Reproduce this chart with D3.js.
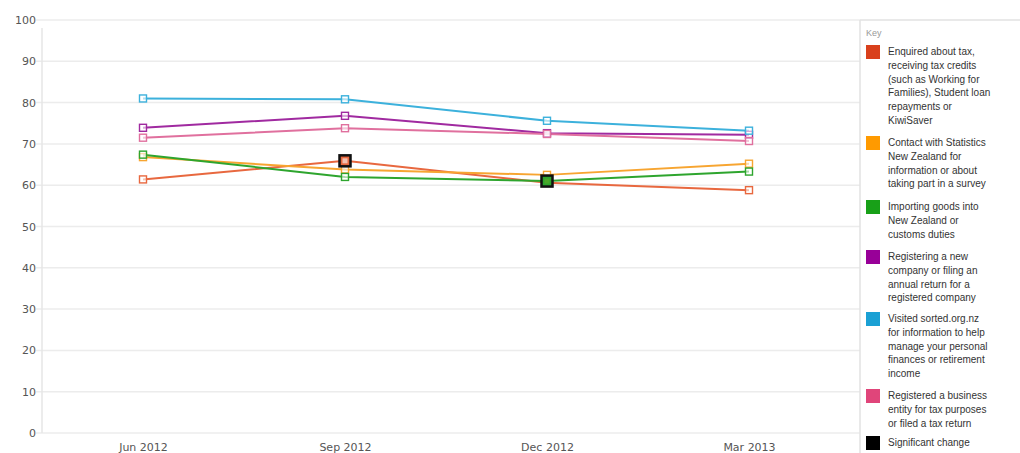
<!DOCTYPE html>
<html>
<head>
<meta charset="utf-8">
<script src="https://cdn.jsdelivr.net/npm/d3@7"></script>
<style>
  html, body { margin: 0; padding: 0; background: #fff; }
  svg { display: block; }
</style>
</head>
<body>
<svg id="chart" width="1020" height="453"></svg>
<script>
// Survey quarters
const quarters = ["Jun 2012", "Sep 2012", "Dec 2012", "Mar 2013"];
const yTicks = [0, 10, 20, 30, 40, 50, 60, 70, 80, 90, 100];

// Percentage per activity, one array per series
const taxEnquiry   = [61.4, 65.9, 60.6, 58.8];
const statsContact = [66.8, 63.8, 62.5, 65.2];
const importing    = [67.4, 62.0, 61.0, 63.3];
const companyReg   = [73.9, 76.8, 72.6, 72.2];
const sortedVisit  = [81.0, 80.8, 75.6, 73.2];
const businessReg  = [71.5, 73.8, 72.4, 70.7];

// Quarters flagged as a significant change for a series (index into quarters)
const sigTax = [1];
const sigImport = [2];

const seriesNames = [
  "Enquired about tax, receiving tax credits (such as Working for Families), Student loan repayments or KiwiSaver",
  "Contact with Statistics New Zealand for information or about taking part in a survey",
  "Importing goods into New Zealand or customs duties",
  "Registering a new company or filing an annual return for a registered company",
  "Visited sorted.org.nz for information to help manage your personal finances or retirement income",
  "Registered a business entity for tax purposes or filed a tax return"
];

const legendLines = [
  ["Enquired about tax,", "receiving tax credits", "(such as Working for", "Families), Student loan", "repayments or", "KiwiSaver"],
  ["Contact with Statistics", "New Zealand for", "information or about", "taking part in a survey"],
  ["Importing goods into", "New Zealand or", "customs duties"],
  ["Registering a new", "company or filing an", "annual return for a", "registered company"],
  ["Visited sorted.org.nz", "for information to help", "manage your personal", "finances or retirement", "income"],
  ["Registered a business", "entity for tax purposes", "or filed a tax return"],
  ["Significant change"]
];

const lineColors   = ["#e8683f", "#f7a531", "#2ea52e", "#a02aa0", "#3cb1dc", "#e0709e"];
const swatchColors = ["#d9401c", "#ff9a00", "#18a018", "#980098", "#1aa0d4", "#e0457a", "#000000"];

const series = [
  { values: taxEnquiry,   sig: sigTax },
  { values: statsContact, sig: [] },
  { values: importing,    sig: sigImport },
  { values: companyReg,   sig: [] },
  { values: sortedVisit,  sig: [] },
  { values: businessReg,  sig: [] }
];

const svg = d3.select("#chart");
const plot = { left: 42, right: 850, top: 20, bottom: 433 };

const x = d3.scalePoint().domain(quarters).range([plot.left, plot.right]).padding(0.5);
const y = d3.scaleLinear().domain([0, 100]).range([plot.bottom, plot.top]);

// Horizontal grid lines
svg.append("g")
  .selectAll("line")
  .data(yTicks)
  .join("line")
  .attr("x1", 36).attr("x2", 860)
  .attr("y1", d => y(d)).attr("y2", d => y(d))
  .attr("stroke", "#ececec").attr("stroke-width", 1.5);

// Left axis line
svg.append("line")
  .attr("x1", plot.left).attr("x2", plot.left)
  .attr("y1", plot.top + 8).attr("y2", plot.bottom)
  .attr("stroke", "#e6e6e6").attr("stroke-width", 1.5);

// Y axis labels
const yAxis = d3.axisLeft(y).tickValues(yTicks).tickSize(0).tickPadding(6);
const gy = svg.append("g").attr("transform", `translate(${plot.left},0)`).call(yAxis);
gy.select(".domain").remove();
gy.selectAll("text")
  .attr("x", -6)
  .attr("font-family", "DejaVu Sans, sans-serif")
  .attr("font-size", 11)
  .attr("fill", "#555");

// X axis labels
const xAxis = d3.axisBottom(x).tickSize(0).tickPadding(0);
const gx = svg.append("g").attr("transform", `translate(0,${plot.bottom})`).call(xAxis);
gx.select(".domain").remove();
gx.selectAll("text")
  .attr("y", 10)
  .attr("dy", "0.71em")
  .attr("font-family", "DejaVu Sans, sans-serif")
  .attr("font-size", 11)
  .attr("fill", "#555");

// Series lines
const line = d3.line().x((d, i) => x(quarters[i])).y(d => y(d));
const gLines = svg.append("g");
series.forEach((s, k) => {
  gLines.append("path")
    .datum(s.values)
    .attr("d", line)
    .attr("fill", "none")
    .attr("stroke", lineColors[k])
    .attr("stroke-width", 2)
    .attr("stroke-linejoin", "round");
});

// Point markers
series.forEach((s, k) => {
  svg.append("g")
    .selectAll("rect")
    .data(s.values.map((v, i) => ({ v, i })))
    .join("rect")
    .attr("x", d => x(quarters[d.i]) - 3.5)
    .attr("y", d => y(d.v) - 3.5)
    .attr("width", 7).attr("height", 7)
    .attr("fill", "rgba(255,255,255,0.6)")
    .attr("stroke", lineColors[k])
    .attr("stroke-width", 1.4);
});

// Significant change markers
series.forEach((s, k) => {
  svg.append("g")
    .selectAll("rect")
    .data(s.sig.map(i => ({ v: s.values[i], i })))
    .join("rect")
    .attr("x", d => x(quarters[d.i]) - 5.5)
    .attr("y", d => y(d.v) - 5.5)
    .attr("width", 11).attr("height", 11)
    .attr("fill", lineColors[k])
    .attr("stroke", "#111")
    .attr("stroke-width", 2.5);
  svg.append("g")
    .selectAll("rect")
    .data(s.sig.map(i => ({ v: s.values[i], i })))
    .join("rect")
    .attr("x", d => x(quarters[d.i]) - 2.5)
    .attr("y", d => y(d.v) - 2.5)
    .attr("width", 5).attr("height", 5)
    .attr("fill", k === 0 ? "#f3c0b0" : "#4aa82a")
    .attr("stroke", "none");
});

// Legend panel
const legend = svg.append("g").attr("transform", "translate(860,0)");
legend.append("line")
  .attr("x1", 0).attr("x2", 0).attr("y1", 20).attr("y2", 453)
  .attr("stroke", "#e2e2e2").attr("stroke-width", 1.5);
legend.append("line")
  .attr("x1", 0).attr("x2", 160).attr("y1", 20).attr("y2", 20)
  .attr("stroke", "#e2e2e2").attr("stroke-width", 1.5);
legend.append("text")
  .attr("x", 6).attr("y", 36)
  .attr("font-family", "Liberation Sans, Arial, sans-serif")
  .attr("font-size", 9)
  .attr("fill", "#999")
  .text("Key");

const entryTops = [45, 136, 200, 250, 312, 389, 436];
const lineH = 13.8;
legendLines.forEach((lines, k) => {
  const g = legend.append("g").attr("transform", `translate(0,${entryTops[k]})`);
  g.append("rect")
    .attr("x", 6).attr("y", 0)
    .attr("width", 14).attr("height", 14)
    .attr("fill", swatchColors[k]);
  const t = g.append("text")
    .attr("font-family", "Liberation Sans, Arial, sans-serif")
    .attr("font-size", 10)
    .attr("fill", "#333");
  lines.forEach((ln, j) => {
    t.append("tspan").attr("x", 28).attr("y", 10 + j * lineH).text(ln);
  });
});
</script>
</body>
</html>
